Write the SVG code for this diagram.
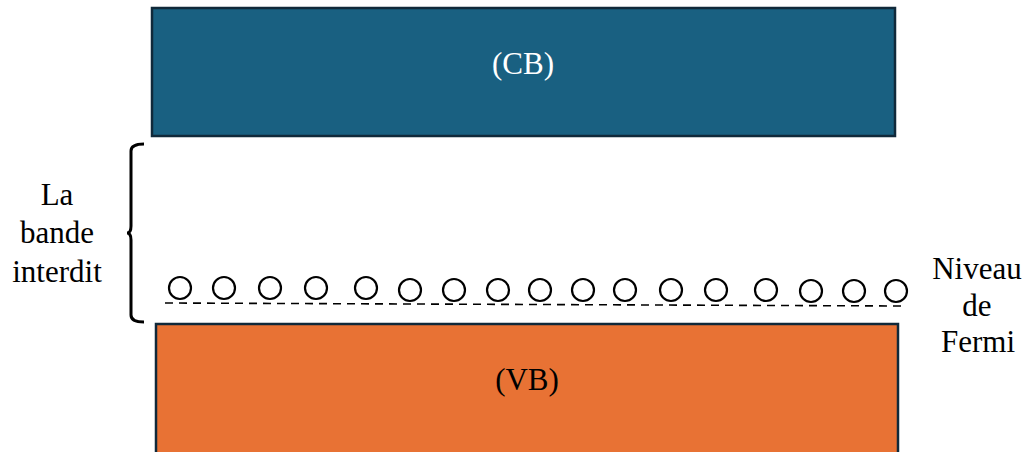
<svg xmlns="http://www.w3.org/2000/svg" width="1029" height="452" viewBox="0 0 1029 452">
  <style>
    .label { font-family: "Liberation Serif", "Times New Roman", serif; font-size: 31px; text-anchor: middle; }
    .band { stroke: #10293a; stroke-width: 2.5; }
    .state { fill: none; stroke: #000; stroke-width: 2.2; }
  </style>
  <rect width="1029" height="452" fill="#fff"/>

  <!-- conduction band -->
  <g id="cb">
    <rect class="band" x="152" y="8" width="743" height="128" fill="#196081"/>
    <text class="label" x="523" y="74" fill="#fff">(CB)</text>
  </g>

  <!-- valence band -->
  <g id="vb">
    <rect class="band" x="156" y="324" width="742" height="140" fill="#e87234"/>
    <text class="label" x="527" y="390" fill="#000">(VB)</text>
  </g>

  <!-- band gap brace and label -->
  <g id="gap">
    <path d="M144,144 Q131,144 131,151 L131,226 Q131,233 127,233 Q131,233 131,240 L131,315 Q131,322 144,322" fill="none" stroke="#000" stroke-width="3"/>
    <text class="label" x="57" y="205">La</text>
    <text class="label" x="57" y="243">bande</text>
    <text class="label" x="57" y="282">interdit</text>
  </g>

  <!-- Fermi level -->
  <g id="fermi">
    <line x1="165" y1="303" x2="902" y2="306" stroke="#000" stroke-width="1.6" stroke-dasharray="8,6"/>
    <g class="state">
      <circle cx="180" cy="288" r="11"/>
      <circle cx="224" cy="288" r="11"/>
      <circle cx="270" cy="288" r="11"/>
      <circle cx="316" cy="288" r="11"/>
      <circle cx="366" cy="288" r="11"/>
      <circle cx="410" cy="290" r="11"/>
      <circle cx="454" cy="290" r="11"/>
      <circle cx="498" cy="290" r="11"/>
      <circle cx="540" cy="290" r="11"/>
      <circle cx="583" cy="290" r="11"/>
      <circle cx="625" cy="290" r="11"/>
      <circle cx="671" cy="290" r="11"/>
      <circle cx="716" cy="290" r="11"/>
      <circle cx="766" cy="290" r="11"/>
      <circle cx="811" cy="291" r="11"/>
      <circle cx="854" cy="291" r="11"/>
      <circle cx="896" cy="291" r="11"/>
    </g>
    <text class="label" x="977" y="279">Niveau</text>
    <text class="label" x="977" y="316">de</text>
    <text class="label" x="978" y="352">Fermi</text>
  </g>
</svg>
